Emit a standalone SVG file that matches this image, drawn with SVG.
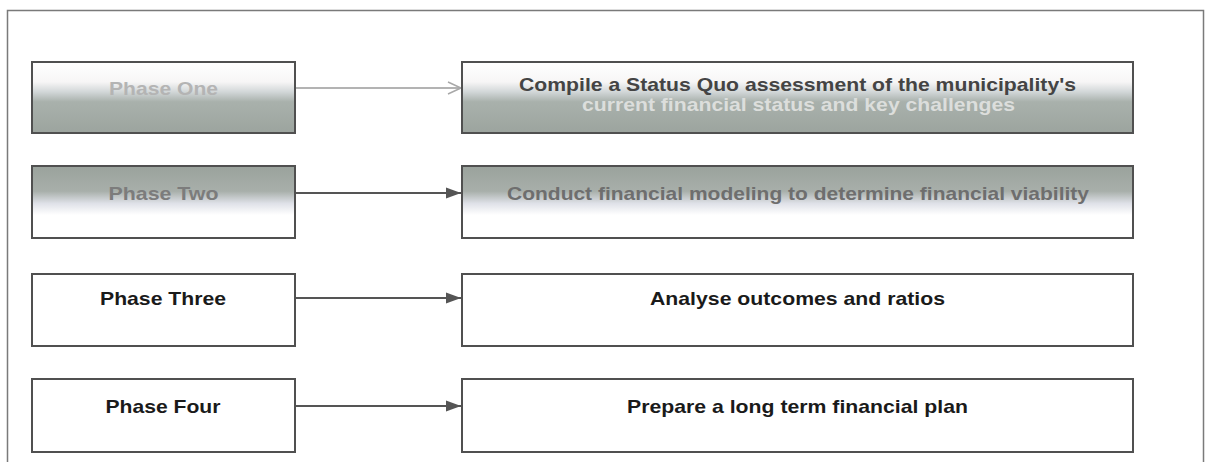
<svg xmlns="http://www.w3.org/2000/svg" width="1208" height="462" viewBox="0 0 1208 462">
  <style>
    .frame { fill: none; stroke: #7a7a7a; stroke-width: 1.5; }
    .box { stroke: #505050; stroke-width: 2; }
    .plain { fill: #ffffff; }
    .t { font-family: "Liberation Sans", Arial, sans-serif; font-weight: bold; font-size: 19px; text-anchor: middle; }
    .dark { fill: #1a1a1a; }
    .conn { stroke: #555555; stroke-width: 2; fill: none; }
  </style>
  <defs>
    <linearGradient id="gOne" x1="0" y1="0" x2="0" y2="1">
      <stop offset="0" stop-color="#ffffff"/>
      <stop offset="0.28" stop-color="#f7f6f6"/>
      <stop offset="0.42" stop-color="#d2d7d8"/>
      <stop offset="0.56" stop-color="#a9b1ac"/>
      <stop offset="1" stop-color="#9ca49e"/>
    </linearGradient>
    <linearGradient id="gTwo" x1="0" y1="0" x2="0" y2="1">
      <stop offset="0" stop-color="#9aa29c"/>
      <stop offset="0.35" stop-color="#a8afaa"/>
      <stop offset="0.52" stop-color="#dfe1e8"/>
      <stop offset="0.68" stop-color="#ffffff"/>
      <stop offset="1" stop-color="#ffffff"/>
    </linearGradient>
    <marker id="arrFill" markerUnits="userSpaceOnUse" markerWidth="16" markerHeight="12" refX="15" refY="6" orient="auto">
      <path d="M0,0.5 L15,6 L0,11.5 z" fill="#555555"/>
    </marker>
    <marker id="arrOpen" markerUnits="userSpaceOnUse" markerWidth="16" markerHeight="14" refX="14" refY="7" orient="auto">
      <path d="M1,1 L14,7 L1,13" fill="none" stroke="#a8a8a8" stroke-width="1.5"/>
    </marker>
  </defs>

  <rect class="frame" x="7.5" y="10.5" width="1196" height="470"/>

  <g id="connectors">
    <line x1="296" y1="88" x2="461" y2="88" stroke="#9a9a9a" stroke-width="1.5" marker-end="url(#arrOpen)"/>
    <line class="conn" x1="296" y1="193" x2="461" y2="193" marker-end="url(#arrFill)"/>
    <line class="conn" x1="296" y1="298" x2="461" y2="298" marker-end="url(#arrFill)"/>
    <line class="conn" x1="296" y1="406" x2="461" y2="406" marker-end="url(#arrFill)"/>
  </g>

  <g id="phase-one">
    <rect class="box" x="32" y="62" width="263" height="71" fill="url(#gOne)" stroke="#6a6a6a"/>
    <text class="t" x="163.5" y="94.5" fill="#b4b4b4" textLength="109" lengthAdjust="spacingAndGlyphs">Phase One</text>
  </g>
  <g id="step-one">
    <rect class="box" x="462" y="62" width="671" height="71" fill="url(#gOne)" stroke="#6a6a6a"/>
    <text class="t" x="797.5" y="91" fill="#444444" textLength="557" lengthAdjust="spacingAndGlyphs">Compile a Status Quo assessment of the municipality's</text>
    <text class="t" x="798.5" y="111" fill="#dcdedc" textLength="433" lengthAdjust="spacingAndGlyphs">current financial status and key challenges</text>
  </g>

  <g id="phase-two">
    <rect class="box" x="32" y="166" width="263" height="72" fill="url(#gTwo)"/>
    <text class="t" x="163.5" y="199.5" fill="#7c7c7c" textLength="110" lengthAdjust="spacingAndGlyphs">Phase Two</text>
  </g>
  <g id="step-two">
    <rect class="box" x="462" y="166" width="671" height="72" fill="url(#gTwo)"/>
    <text class="t" x="798" y="199.5" fill="#6e6e6e" textLength="582" lengthAdjust="spacingAndGlyphs">Conduct financial modeling to determine financial viability</text>
  </g>

  <g id="phase-three">
    <rect class="box plain" x="32" y="274" width="263" height="72"/>
    <text class="t dark" x="163" y="304.5" textLength="126" lengthAdjust="spacingAndGlyphs">Phase Three</text>
  </g>
  <g id="step-three">
    <rect class="box plain" x="462" y="274" width="671" height="72"/>
    <text class="t dark" x="797.5" y="304.5" textLength="295" lengthAdjust="spacingAndGlyphs">Analyse outcomes and ratios</text>
  </g>

  <g id="phase-four">
    <rect class="box plain" x="32" y="379" width="263" height="73"/>
    <text class="t dark" x="163" y="412.5" textLength="115" lengthAdjust="spacingAndGlyphs">Phase Four</text>
  </g>
  <g id="step-four">
    <rect class="box plain" x="462" y="379" width="671" height="73"/>
    <text class="t dark" x="797.5" y="412.5" textLength="341" lengthAdjust="spacingAndGlyphs">Prepare a long term financial plan</text>
  </g>
</svg>
